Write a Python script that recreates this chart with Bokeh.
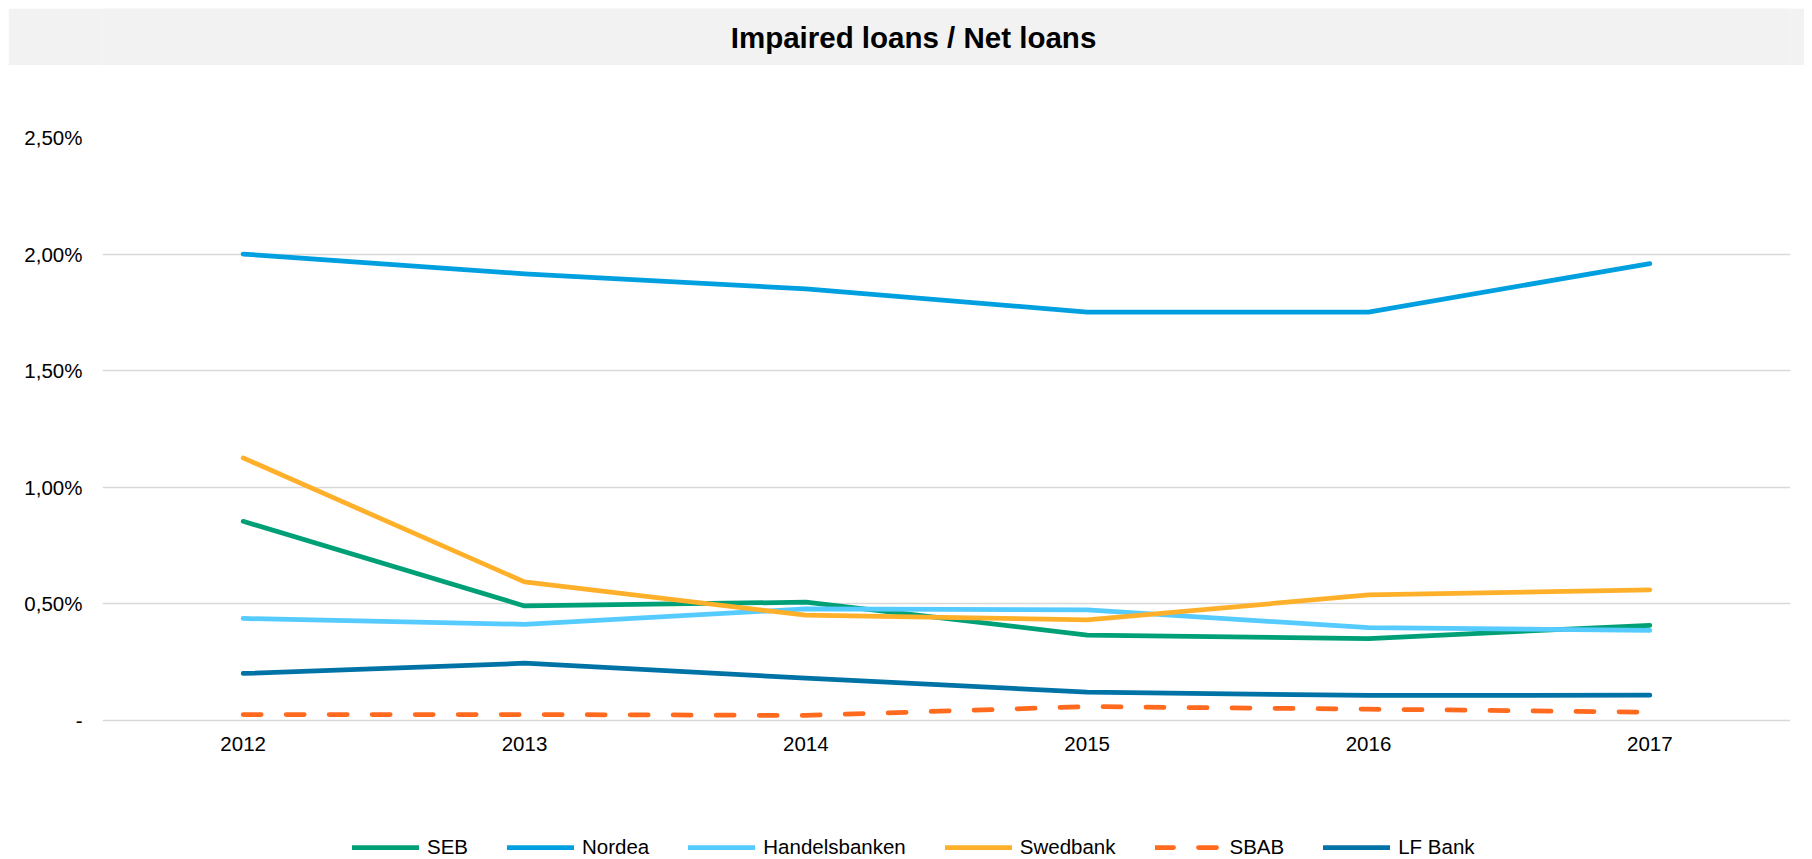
from bokeh.plotting import figure
from bokeh.models import FactorRange, Range1d, FixedTicker, Legend, LegendItem
from bokeh.layouts import column
from bokeh.embed import file_html
from bokeh.resources import INLINE
from bokeh.core.properties import value

title_text = "Impaired loans / Net loans"
years = ["2012", "2013", "2014", "2015", "2016", "2017"]

# values in percent
seb = [0.853, 0.490, 0.506, 0.365, 0.350, 0.407]
nordea = [2.000, 1.915, 1.850, 1.751, 1.751, 1.959]
handelsbanken = [0.436, 0.411, 0.477, 0.473, 0.397, 0.385]
swedbank = [1.125, 0.593, 0.450, 0.430, 0.537, 0.559]
sbab = [0.024, 0.024, 0.020, 0.058, 0.047, 0.034]
lf_bank = [0.200, 0.244, 0.180, 0.120, 0.106, 0.107]

series_names = ["SEB", "Nordea", "Handelsbanken", "Swedbank", "SBAB", "LF Bank"]
series_values = [seb, nordea, handelsbanken, swedbank, sbab, lf_bank]
series_colors = ["#00a077", "#00a0e0", "#55cbff", "#ffb02b", "#ff6a1f", "#0073a6"]
series_dash = ["solid", "solid", "solid", "solid", "18 25", "solid"]

y_ticks = [0.0, 0.5, 1.0, 1.5, 2.0, 2.5]
y_tick_labels = ["-", "0,50%", "1,00%", "1,50%", "2,00%", "2,50%"]

FONT = "Liberation Sans"
W = 1796
BL, BR = 94, 14
H_MAIN = 794
TOP = 72
# frame spans from 2.5% down past zero so that the legend sits inside the frame
PX_PER_UNIT = 233.04
y_start = 2.5 - (H_MAIN - TOP) / PX_PER_UNIT

# ---- title band ----
t = figure(width=W, height=57, x_range=Range1d(0, 1), y_range=Range1d(0, 1),
           toolbar_location=None, output_backend="svg",
           x_axis_type=None, y_axis_type=None,
           min_border_left=BL, min_border_right=BR, min_border_top=0, min_border_bottom=0,
           background_fill_color="#f2f2f2", border_fill_color="#f2f2f2",
           outline_line_color=None)
t.grid.visible = False
t.text(x=[0.5], y=[0.5], text=[title_text], text_align="center",
       text_baseline="middle", text_font=value(FONT), text_font_style="bold",
       text_font_size="29.5px", text_color="#000000", x_offset=-33)

# ---- main chart ----
p = figure(width=W, height=H_MAIN, x_range=FactorRange(*years), y_range=Range1d(y_start, 2.5),
           toolbar_location=None, output_backend="svg",
           min_border_left=BL, min_border_right=BR, min_border_top=TOP, min_border_bottom=0,
           outline_line_color=None, background_fill_color="white", border_fill_color="white")

items = []
for name, vals, col, dash in zip(series_names, series_values, series_colors, series_dash):
    r = p.line(x=years, y=vals, line_color=col, line_width=4.75, line_dash=dash,
               line_cap="round", line_join="round")
    items.append(LegendItem(label=name, renderers=[r]))

p.xgrid.visible = False
p.ygrid.grid_line_color = "#d9d9d9"
p.ygrid.grid_line_width = 1.5

p.yaxis.ticker = FixedTicker(ticks=y_ticks)
p.yaxis.major_label_overrides = {tk: lb for tk, lb in zip(y_ticks, y_tick_labels)}
p.xaxis.fixed_location = 0
for ax in (p.xaxis[0], p.yaxis[0]):
    ax.axis_line_color = None
    ax.major_tick_line_color = None
    ax.minor_tick_line_color = None
    ax.major_tick_out = 0
    ax.major_tick_in = 0
    ax.major_label_text_font = FONT
    ax.major_label_text_font_size = "20.5px"
    ax.major_label_text_color = "#000000"
p.yaxis.major_label_standoff = 20
p.xaxis.major_label_standoff = 17

legend = Legend(items=items, orientation="horizontal", location=(250, 0),
                padding=0, margin=0, spacing=39, glyph_width=67, glyph_height=24,
                label_height=24, label_standoff=8,
                label_text_font=FONT, label_text_font_size="20.5px",
                label_text_color="#000000",
                border_line_color=None, background_fill_alpha=0)
p.add_layout(legend, "center")

layout = column(t, p, spacing=0, margin=(8, 8, 0, 8))
open("out.html", "w").write(file_html(layout, INLINE))
